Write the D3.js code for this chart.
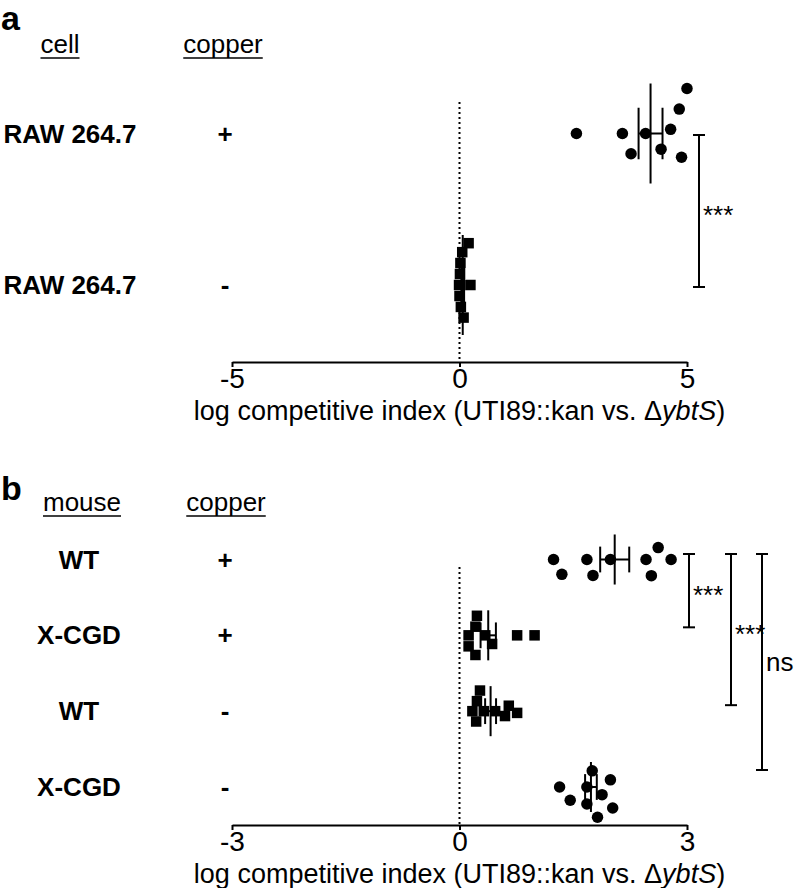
<!DOCTYPE html>
<html><head><meta charset="utf-8">
<script src="https://cdn.jsdelivr.net/npm/d3@7"></script>
<style>
body{margin:0;background:#fff}
text{font-family:"Liberation Sans",Arial,Helvetica,sans-serif;fill:#000}
</style>
</head><body>
<svg id="chart" width="800" height="888"></svg>
<script>
// ---------- DATA ----------
// Panel a
const aLetter = "a";
const aHeaders = ["cell", "copper"];
const aCells = ["RAW 264.7", "RAW 264.7"];
const aCopper = ["+", "-"];
const aMarkers = ["circle", "square"];
const aValues = [
  [2.57, 3.58, 3.77, 4.09, 4.43, 4.64, 4.88, 4.83, 5.00],
  [0.20, 0.06, 0.01, -0.01, 0.00, 0.02, 0.03, 0.09, 0.24]
];
const aTicks = [-5, 0, 5];
const aSignif = [{ from: 0, to: 1, label: "***" }];

// Panel b
const bLetter = "b";
const bHeaders = ["mouse", "copper"];
const bMice = ["WT", "X-CGD", "WT", "X-CGD"];
const bCopper = ["+", "+", "-", "-"];
const bMarkers = ["circle", "square", "square", "circle"];
const bValues = [
  [1.24, 1.35, 1.68, 1.76, 1.99, 2.46, 2.62, 2.79, 2.53],
  [0.21, 0.12, 0.12, 0.34, 0.21, 0.43, 0.23, 0.76, 0.99],
  [0.22, 0.17, 0.23, 0.32, 0.47, 0.65, 0.76, 0.60, 0.27],
  [1.46, 1.32, 1.68, 1.68, 1.75, 1.88, 2.02, 1.99, 1.82]
];
const bTicks = [-3, 0, 3];
const bSignif = [
  { from: 0, to: 1, label: "***" },
  { from: 0, to: 2, label: "***" },
  { from: 0, to: 3, label: "ns" }
];

const axisTitleParts = [
  { t: "log competitive index (UTI89::kan vs. ", i: false },
  { t: "\u0394", i: false },
  { t: "ybtS", i: true },
  { t: ")", i: false }
];

// ---------- LAYOUT ----------
const svg = d3.select("#chart");
const FONT = 26;

function swarm(vals, xs, gap) {
  const idx = vals.map((v, i) => i).sort((a, b) => vals[a] - vals[b]);
  const placed = [];
  const ys = new Array(vals.length).fill(0);
  for (const i of idx) {
    const x = xs(vals[i]);
    const cands = [0];
    for (const p of placed) {
      const dx = Math.abs(p.x - x);
      if (dx < gap) {
        const dy = Math.sqrt(gap * gap - dx * dx) + 0.01;
        cands.push(p.y + dy, p.y - dy);
      }
    }
    cands.sort((a, b) => Math.abs(a) - Math.abs(b) || b - a);
    for (const c of cands) {
      if (placed.every(p => (p.x - x) ** 2 + (p.y - c) ** 2 >= gap * gap - 0.05)) {
        ys[i] = c; placed.push({ x, y: c }); break;
      }
    }
  }
  return ys;
}

function drawPanel(cfg) {
  const g = svg.append("g");
  const x = d3.scaleLinear().domain(cfg.domain).range([232, 687]);
  const y = d3.scalePoint().domain(d3.range(cfg.values.length)).range(cfg.rowRange);
  const step = y.step();

  // panel letter
  g.append("text").attr("x", 1).attr("y", cfg.letterY)
    .attr("font-size", 34).attr("font-weight", "bold").text(cfg.letter);

  // headers with underline
  cfg.headers.forEach((h, i) => {
    const t = g.append("text").attr("x", cfg.headerX[i]).attr("y", cfg.headerY)
      .attr("text-anchor", "middle").attr("font-size", FONT).text(h);
    const w = t.node().getComputedTextLength();
    g.append("line").attr("x1", cfg.headerX[i] - w / 2).attr("x2", cfg.headerX[i] + w / 2)
      .attr("y1", cfg.headerY + 5).attr("y2", cfg.headerY + 5)
      .attr("stroke", "#000").attr("stroke-width", 1.6);
  });

  // row labels
  cfg.rowLabels.forEach((lab, i) => {
    g.append("text").attr("x", cfg.labelX).attr("y", y(i) + 9)
      .attr("text-anchor", "middle").attr("font-size", FONT).attr("font-weight", "bold").text(lab);
    g.append("text").attr("x", 225).attr("y", y(i) + 9)
      .attr("text-anchor", "middle").attr("font-size", FONT).attr("font-weight", "bold").text(cfg.copper[i]);
  });

  // zero dotted line
  g.append("line").attr("x1", x(0)).attr("x2", x(0))
    .attr("y1", cfg.dotTop).attr("y2", cfg.axisY)
    .attr("stroke", "#000").attr("stroke-width", 2).attr("stroke-dasharray", "2,3");

  // axis
  const ax = g.append("g").attr("transform", `translate(0,${cfg.axisY})`)
    .call(d3.axisBottom(x).tickValues(cfg.ticks).tickSize(5).tickSizeOuter(0).tickPadding(1)
      .tickFormat(d => d < 0 ? "-" + Math.abs(d) : String(d)));
  ax.select(".domain").attr("stroke-width", 2);
  ax.selectAll(".tick line").attr("stroke-width", 2);
  ax.selectAll(".tick text").attr("font-size", 28)
    .attr("font-family", '"Liberation Sans",Arial,sans-serif').attr("fill", "#000");

  // axis title
  const tt = g.append("text").attr("x", x(0)).attr("y", cfg.axisY + 58)
    .attr("text-anchor", "middle").attr("font-size", 27);
  axisTitleParts.forEach(p => {
    const s = tt.append("tspan").text(p.t);
    if (p.i) s.attr("font-style", "italic");
  });

  // points
  cfg.values.forEach((vals, r) => {
    const isSq = cfg.markers[r] === "square";
    const size = isSq ? 10.5 : 11.5;
    const gap = isSq ? 11 : cfg.circleGap;
    const offs = swarm(vals, x, gap);
    const pg = g.append("g");
    if (isSq) {
      pg.selectAll("rect").data(vals).join("rect")
        .attr("x", d => x(d) - size / 2).attr("y", (d, i) => y(r) + offs[i] - size / 2)
        .attr("width", size).attr("height", size).attr("fill", "#000");
    } else {
      pg.selectAll("circle").data(vals).join("circle")
        .attr("cx", d => x(d)).attr("cy", (d, i) => y(r) + offs[i])
        .attr("r", size / 2).attr("fill", "#000");
    }
    // mean +/- SEM
    const m = d3.mean(vals);
    const sem = d3.deviation(vals) / Math.sqrt(vals.length);
    const cy = y(r);
    const hm = step * 0.33, hc = step * 0.17;
    const lg = g.append("g").attr("stroke", "#000").attr("stroke-width", 2);
    lg.append("line").attr("x1", x(m)).attr("x2", x(m)).attr("y1", cy - hm).attr("y2", cy + hm);
    lg.append("line").attr("x1", x(m - sem)).attr("x2", x(m + sem)).attr("y1", cy).attr("y2", cy);
    [m - sem, m + sem].forEach(v => lg.append("line").attr("x1", x(v)).attr("x2", x(v))
      .attr("y1", cy - hc).attr("y2", cy + hc));
  });

  // significance brackets
  cfg.signif.forEach((s, k) => {
    const bx = cfg.bracketX[k];
    const y1 = y(s.from) + cfg.bracketTopOff;
    const y2 = y(s.to) + cfg.bracketBotOff[k];
    const bg = g.append("g").attr("stroke", "#000").attr("stroke-width", 2);
    bg.append("line").attr("x1", bx).attr("x2", bx).attr("y1", y1).attr("y2", y2);
    bg.append("line").attr("x1", bx - 6).attr("x2", bx + 6).attr("y1", y1).attr("y2", y1);
    bg.append("line").attr("x1", bx - 6).attr("x2", bx + 6).attr("y1", y2).attr("y2", y2);
    g.append("text").attr("x", bx + 4).attr("y", (y1 + y2) / 2 + (s.label === "ns" ? 9 : 13))
      .attr("font-size", FONT).text(s.label);
  });
}

drawPanel({
  letter: aLetter, letterY: 30,
  headers: aHeaders, headerX: [60, 223], headerY: 53,
  rowLabels: aCells, copper: aCopper, labelX: 70,
  markers: aMarkers, values: aValues,
  domain: [-5, 5], ticks: aTicks, rowRange: [133.5, 285],
  axisY: 362, dotTop: 102, circleGap: 22,
  signif: aSignif, bracketX: [699], bracketTopOff: 1.5, bracketBotOff: [2]
});

drawPanel({
  letter: bLetter, letterY: 500,
  headers: bHeaders, headerX: [82, 226], headerY: 511,
  rowLabels: bMice, copper: bCopper, labelX: 79,
  markers: bMarkers, values: bValues,
  domain: [-3, 3], ticks: bTicks, rowRange: [559.5, 787],
  axisY: 825, dotTop: 567, circleGap: 17,
  signif: bSignif, bracketX: [689, 731, 762], bracketTopOff: -5.5, bracketBotOff: [-8, -6, -17]
});
</script>
</body></html>
